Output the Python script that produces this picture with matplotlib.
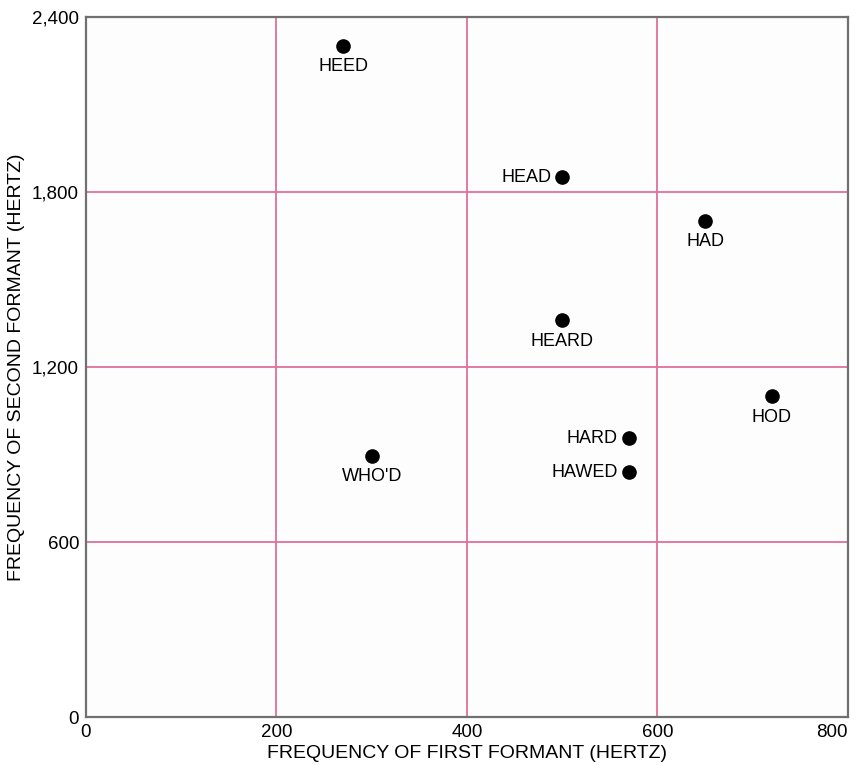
import matplotlib.pyplot as plt
from matplotlib.ticker import FuncFormatter

plt.rcParams['font.family'] = ['Liberation Sans', 'DejaVu Sans']

# vowel formant data (Hz)
words = ["HEED", "HEAD", "HAD", "HEARD", "HOD", "HARD", "HAWED", "WHO'D"]
f1 = [270, 500, 650, 500, 720, 570, 570, 300]
f2 = [2300, 1850, 1700, 1360, 1100, 955, 840, 895]
# label goes below the dot or to its left
side = ["below", "left", "below", "below", "below", "left", "left", "below"]

xticks = [0, 200, 400, 600, 800]
yticks = [0, 600, 1200, 1800, 2400]

fig = plt.figure(figsize=(8.58, 7.65), dpi=100)
ax = fig.add_axes([0.1002, 0.0627, 0.8881, 0.9151])
ax.set_facecolor('#fdfdfd')

ax.set_xlim(0, 800)
ax.set_ylim(0, 2400)
ax.set_xticks(xticks)
ax.set_yticks(yticks)
ax.yaxis.set_major_formatter(FuncFormatter(lambda v, p: f"{int(v):,}"))
ax.tick_params(length=0, labelsize=13.5, pad=5)
# keep the last x label inside the figure
ax.get_xticklabels()[-1].set_horizontalalignment('right')

for v in xticks[1:-1]:
    ax.axvline(v, color='#e0709a', lw=1.3, zorder=1)
for v in yticks[1:-1]:
    ax.axhline(v, color='#e0709a', lw=1.3, zorder=1)

for s in ax.spines.values():
    s.set_color('#707070')
    s.set_linewidth(1.6)

ax.plot(f1, f2, 'o', color='black', ms=9.5, zorder=3)

for w, x, y, sd in zip(words, f1, f2, side):
    if sd == "below":
        ax.annotate(w, (x, y), xytext=(0, -15), textcoords='offset points',
                    ha='center', va='center', fontsize=13)
    else:
        ax.annotate(w, (x, y), xytext=(-8, 0), textcoords='offset points',
                    ha='right', va='center', fontsize=13)

ax.set_xlabel("FREQUENCY OF FIRST FORMANT (HERTZ)", fontsize=14, labelpad=3)
ax.set_ylabel("FREQUENCY OF SECOND FORMANT (HERTZ)", fontsize=14, labelpad=5)

fig.savefig("out.png", dpi=100)
